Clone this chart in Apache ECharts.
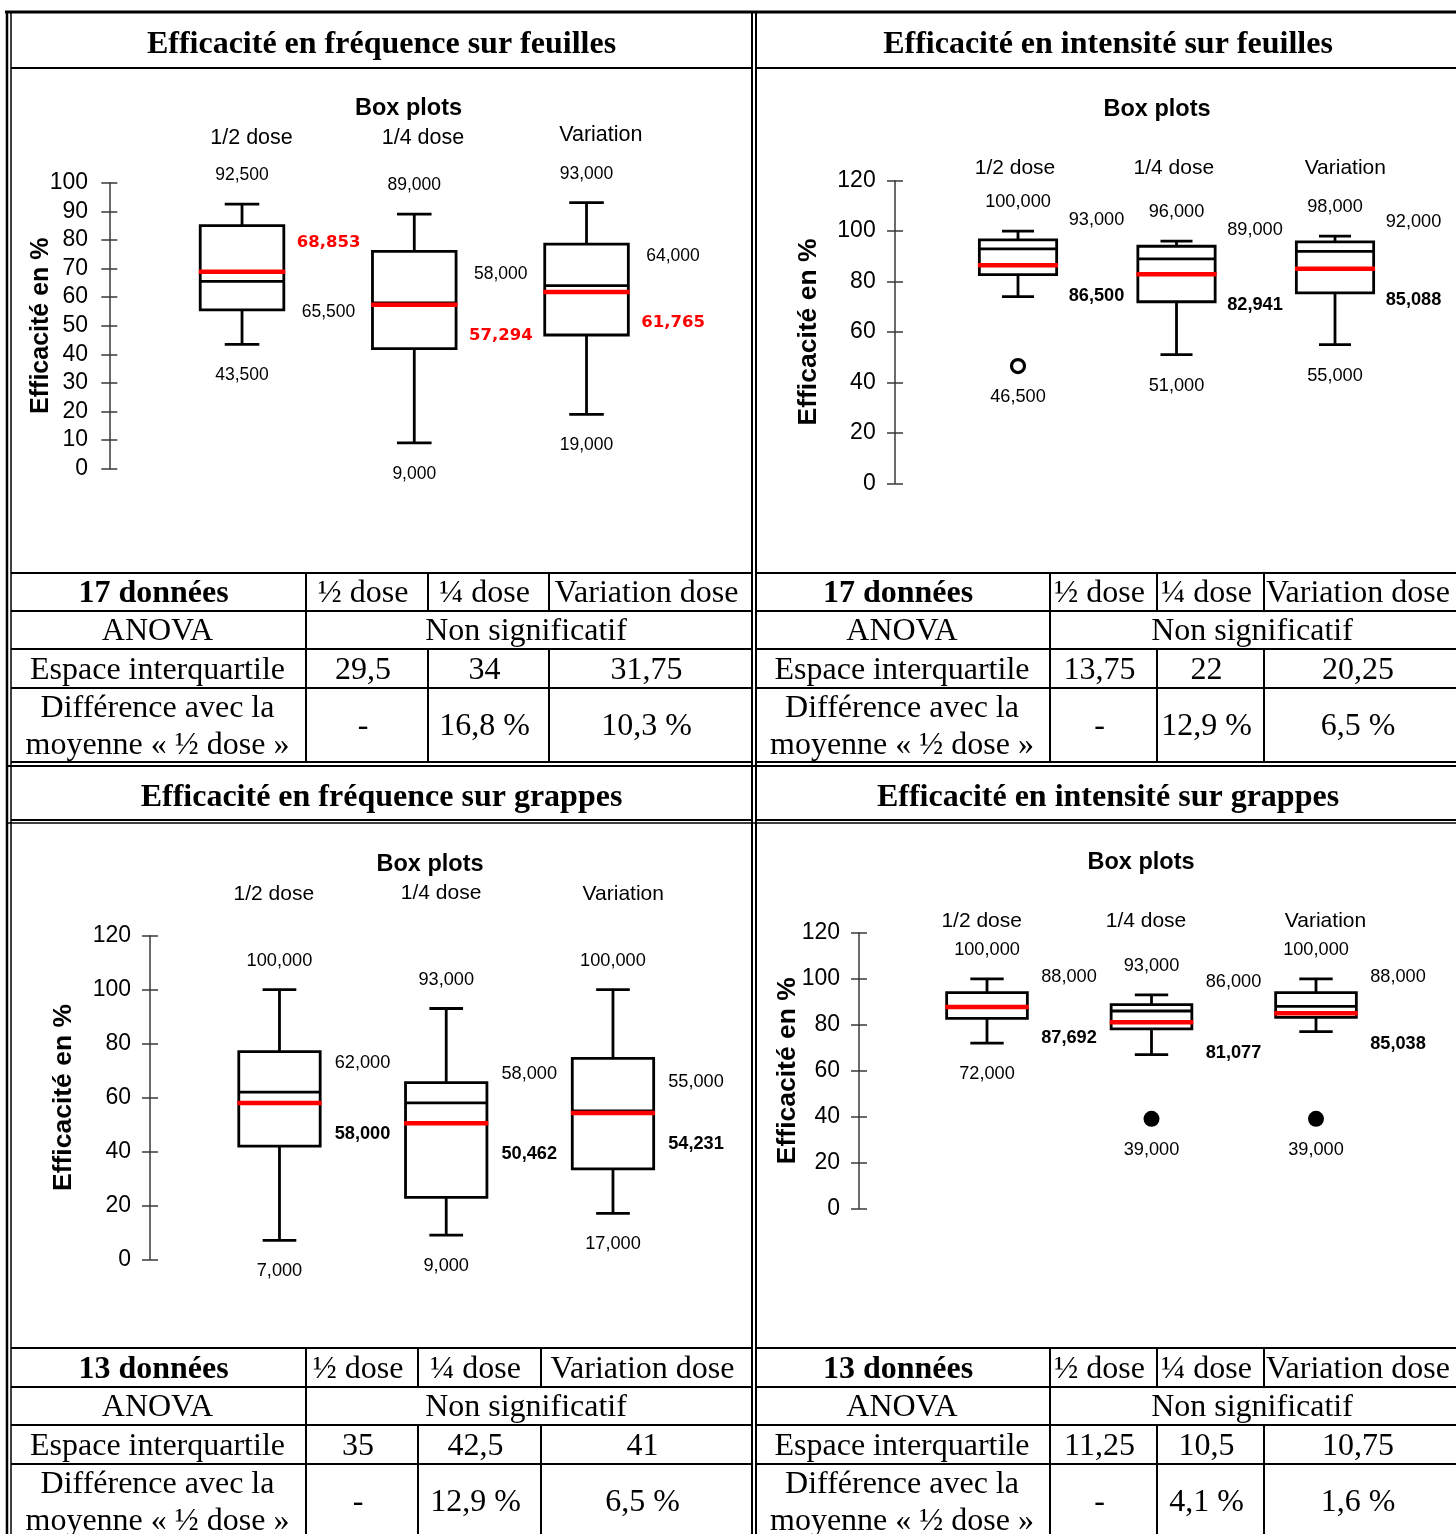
<!DOCTYPE html>
<html lang="fr">
<head>
<meta charset="utf-8">
<title>Efficacité – box plots</title>
<script src="https://cdn.jsdelivr.net/npm/echarts@6/dist/echarts.min.js"></script>
<style>
html, body { margin: 0; padding: 0; background: #fff; }
#main { width: 1456px; height: 1534px; }
</style>
</head>
<body>
<div id="main"></div>
<script>
// ---------- data ----------
const categories = ['1/2 dose', '1/4 dose', 'Variation'];

// each box: [min, Q1, median, Q3, max]
const freqFeuillesBoxes = [[43.5, 55.5, 65.5, 85, 92.5], [9, 42, 58, 76, 89], [19, 46.75, 64, 78.5, 93]];
const freqFeuillesMeans = [68.853, 57.294, 61.765];
const freqFeuillesOutliers = [];

const intFeuillesBoxes = [[74, 82.75, 93, 96.5, 100], [51, 72, 89, 94, 96], [55, 75.5, 92, 95.75, 98]];
const intFeuillesMeans = [86.5, 82.941, 85.088];
const intFeuillesOutliers = [[0, 46.5]];

const freqGrappesBoxes = [[7, 42, 62, 77, 100], [9, 23, 58, 65.5, 93], [17, 33.5, 55, 74.5, 100]];
const freqGrappesMeans = [58, 50.462, 54.231];
const freqGrappesOutliers = [];

const intGrappesBoxes = [[72, 82.75, 88, 94, 100], [67, 78.25, 86, 88.75, 93], [77, 83.25, 88, 94, 100]];
const intGrappesMeans = [87.692, 81.077, 85.038];
const intGrappesOutliers = [[1, 39], [2, 39]];

// y scales: [min, max, interval]
const scaleFreqFeuilles = [0, 100, 10];
const scaleOthers = [0, 120, 20];

// titles and tables
const panelTitles = [
  'Efficacité en fréquence sur feuilles',
  'Efficacité en intensité sur feuilles',
  'Efficacité en fréquence sur grappes',
  'Efficacité en intensité sur grappes'
];
const sampleSizes = ['17 données', '17 données', '13 données', '13 données'];
const tableColumns = ['½ dose', '¼ dose', 'Variation dose'];
const rowAnova = 'ANOVA';
const rowIqr = 'Espace interquartile';
const rowDiff = ['Différence avec la', 'moyenne « ½ dose »'];
const anovaResults = ['Non significatif', 'Non significatif', 'Non significatif', 'Non significatif'];
const iqrFreqFeuilles = ['29,5', '34', '31,75'];
const iqrIntFeuilles = ['13,75', '22', '20,25'];
const iqrFreqGrappes = ['35', '42,5', '41'];
const iqrIntGrappes = ['11,25', '10,5', '10,75'];
const diffFreqFeuilles = ['-', '16,8 %', '10,3 %'];
const diffIntFeuilles = ['-', '12,9 %', '6,5 %'];
const diffFreqGrappes = ['-', '12,9 %', '6,5 %'];
const diffIntGrappes = ['-', '4,1 %', '1,6 %'];

// ---------- layout & style ----------
const SANS = '"Liberation Sans", Arial, sans-serif';
const SERIF = '"Liberation Serif", "Times New Roman", serif';

const panels = [
  { boxes: freqFeuillesBoxes, means: freqFeuillesMeans, outliers: freqFeuillesOutliers, scale: scaleFreqFeuilles,
    iqr: iqrFreqFeuilles, diff: diffFreqFeuilles,
    grid: { left: 155.9, top: 182.7, width: 516.75, height: 286 }, axisOffset: 46.6, tickMargin: 21.3,
    nameFont: 25, nameGap: 56, boxW: 83.6, sideDx: 86.5, valFont: 17.5,
    meanFont: 'bold 16.5px "DejaVu Sans", sans-serif', meanColor: '#ff0000',
    catFont: 21.5, catMargin: 33.5, catNudge: [[9.5, 1.5], [8.7, 0], [14.3, 6]],
    boxTitle: [408.5, 107],
    frame: { x0: 11, x1: 752, top: 12, titleBottom: 68, tableTop: 573, rows: [611, 649, 688], bottom: 762, cols: [306, 428, 549] } },
  { boxes: intFeuillesBoxes, means: intFeuillesMeans, outliers: intFeuillesOutliers, scale: scaleOthers,
    iqr: iqrIntFeuilles, diff: diffIntFeuilles,
    grid: { left: 938.75, top: 180.7, width: 475.5, height: 302.6 }, axisOffset: 43.75, tickMargin: 19.3,
    nameFont: 26.5, nameGap: 73, boxW: 77.3, sideDx: 78.5, valFont: 18.2,
    meanFont: 'bold 18.2px ' + SANS, meanColor: '#000',
    catFont: 21, catMargin: 1.5, catNudge: [[-3, 0], [-2.7, 0], [10.3, 0]],
    boxTitle: [1157, 108],
    frame: { x0: 756, x1: 1460, top: 12, titleBottom: 68, tableTop: 573, rows: [611, 649, 688], bottom: 762, cols: [1050, 1157, 1264] } },
  { boxes: freqGrappesBoxes, means: freqGrappesMeans, outliers: freqGrappesOutliers, scale: scaleOthers,
    iqr: iqrFreqGrappes, diff: diffFreqGrappes,
    grid: { left: 196.1, top: 935.7, width: 500.25, height: 323.6 }, axisOffset: 46.1, tickMargin: 19,
    nameFont: 26.5, nameGap: 73, boxW: 81.4, sideDx: 83, valFont: 18.2,
    meanFont: 'bold 18.2px ' + SANS, meanColor: '#000',
    catFont: 21, catMargin: 30.5, catNudge: [[-5.7, 0], [-5.2, 3], [10.3, 1]],
    boxTitle: [430, 863],
    frame: { x0: 11, x1: 752, top: 766, titleBottom: 820, tableTop: 1348, rows: [1387, 1425, 1464], bottom: 1538, cols: [306, 418, 541] } },
  { boxes: intGrappesBoxes, means: intGrappesMeans, outliers: intGrappesOutliers, scale: scaleOthers,
    iqr: iqrIntGrappes, diff: diffIntGrappes,
    grid: { left: 904.75, top: 933, width: 493.5, height: 275.3 }, axisOffset: 45.75, tickMargin: 19,
    nameFont: 26.5, nameGap: 58, boxW: 80.7, sideDx: 82, valFont: 18.2,
    meanFont: 'bold 18.2px ' + SANS, meanColor: '#000',
    catFont: 21, catMargin: 1, catNudge: [[-5.3, 0], [-5.5, 0], [9.5, 0]],
    boxTitle: [1141, 861],
    frame: { x0: 756, x1: 1460, top: 766, titleBottom: 820, tableTop: 1348, rows: [1387, 1425, 1464], bottom: 1538, cols: [1050, 1157, 1264] } }
];

const BOX_LW = 2.8;
const MEAN_LW = 4.5;
const ABOVE = 31;
const BELOW = 29;
const TEXT_DY = 2;   // optical correction of the 'middle' baseline

const fmt = v => v.toFixed(3).replace('.', ',');

function textEl(str, x, y, font, fill) {
  return {
    type: 'text', silent: true,
    style: { text: str, x: x, y: y + TEXT_DY, font: font, fill: fill || '#000',
      align: 'center', verticalAlign: 'middle', textAlign: 'center', textVerticalAlign: 'middle' }
  };
}
function lineEl(x1, y1, x2, y2, stroke, w) {
  return { type: 'line', silent: true, shape: { x1, y1, x2, y2 }, style: { stroke: stroke, lineWidth: w } };
}

// box + whiskers + median + mean + value labels
function boxRenderer(p) {
  return function (params, api) {
    const cat = api.value(0);
    const vMin = api.value(1), q1 = api.value(2), med = api.value(3), q3 = api.value(4),
      vMax = api.value(5), mean = api.value(6), low = api.value(7);
    const cx = api.coord([cat, med])[0];
    const y = v => api.coord([cat, v])[1];
    const half = p.boxW / 2;
    const outer = p.boxW + BOX_LW;
    const cap = outer * 0.2;
    const valFont = p.valFont + 'px ' + SANS;
    const children = [
      lineEl(cx, y(q3), cx, y(vMax), '#000', BOX_LW),
      lineEl(cx, y(q1), cx, y(vMin), '#000', BOX_LW),
      lineEl(cx - cap, y(vMax), cx + cap, y(vMax), '#000', BOX_LW),
      lineEl(cx - cap, y(vMin), cx + cap, y(vMin), '#000', BOX_LW),
      { type: 'rect', silent: true, shape: { x: cx - half, y: y(q3), width: p.boxW, height: y(q1) - y(q3) },
        style: { fill: '#fff', stroke: '#000', lineWidth: BOX_LW } },
      lineEl(cx - half, y(med), cx + half, y(med), '#000', BOX_LW),
      lineEl(cx - outer / 2, y(mean), cx + outer / 2, y(mean), '#ff0000', MEAN_LW),
      textEl(fmt(vMax), cx, y(vMax) - ABOVE, valFont),
      textEl(fmt(low), cx, y(low) + BELOW, valFont)
    ];
    const sx = cx + p.sideDx;
    const medUp = med >= mean;
    children.push(textEl(fmt(med), sx, medUp ? y(med) - ABOVE : y(med) + BELOW, valFont));
    children.push(textEl(fmt(mean), sx, medUp ? y(mean) + BELOW : y(mean) - ABOVE, p.meanFont, p.meanColor));
    return { type: 'group', children: children };
  };
}

const grids = [], xAxes = [], yAxes = [], series = [], graphics = [];

panels.forEach((p, i) => {
  grids.push(Object.assign({ containLabel: false }, p.grid));

  const rich = {};
  p.catNudge.forEach(([dx, padB], k) => {
    rich['c' + k] = { fontFamily: SANS, fontSize: p.catFont, lineHeight: p.catFont, color: '#000',
      padding: [0, dx < 0 ? -2 * dx : 0, padB, dx > 0 ? 2 * dx : 0] };
  });
  xAxes.push({
    type: 'category', gridIndex: i, data: categories, position: 'top', boundaryGap: true,
    axisLine: { show: false }, axisTick: { show: false }, splitLine: { show: false },
    axisLabel: { margin: p.catMargin, interval: 0, formatter: (v, k) => '{c' + k + '|' + v + '}', rich: rich }
  });

  const [mn, mx, step] = p.scale;
  // main axis: line, outer ticks, labels, title
  yAxes.push({
    type: 'value', gridIndex: i, position: 'left', offset: p.axisOffset, min: mn, max: mx, interval: step,
    name: 'Efficacité en %', nameLocation: 'middle', nameRotate: 90, nameGap: p.nameGap,
    nameMoveOverlap: false,
    nameTextStyle: { fontFamily: SANS, fontWeight: 'bold', fontSize: p.nameFont, color: '#000' },
    axisLine: { show: true, lineStyle: { color: '#3a3a3a', width: 1.5 } },
    axisTick: { show: true, length: 8, lineStyle: { color: '#3a3a3a', width: 1.5 } },
    axisLabel: { margin: p.tickMargin, fontFamily: SANS, fontSize: 23, color: '#000' },
    splitLine: { show: false }
  });
  // companion axis: inner half of the crossing ticks
  yAxes.push({
    type: 'value', gridIndex: i, position: 'left', offset: p.axisOffset, min: mn, max: mx, interval: step,
    axisLine: { show: false },
    axisTick: { show: true, inside: true, length: 8, lineStyle: { color: '#3a3a3a', width: 1.5 } },
    axisLabel: { show: false }, splitLine: { show: false }
  });

  const data = p.boxes.map((b, k) => {
    const outs = p.outliers.filter(o => o[0] === k).map(o => o[1]);
    const low = Math.min(b[0], ...outs);
    return [k, b[0], b[1], b[2], b[3], b[4], p.means[k], low];
  });
  series.push({
    type: 'custom', name: panelTitles[i], xAxisIndex: i, yAxisIndex: 2 * i, clip: false,
    renderItem: boxRenderer(p), encode: { x: 0, y: [1, 2, 3, 4, 5, 6, 7] }, data: data, z: 3
  });
  if (p.outliers.length) {
    const hollow = i === 1;
    series.push({
      type: 'scatter', xAxisIndex: i, yAxisIndex: 2 * i, data: p.outliers, z: 4,
      symbol: 'circle', symbolSize: hollow ? 13 : 16,
      itemStyle: hollow ? { color: '#fff', borderColor: '#000', borderWidth: 3.2, opacity: 1 }
                        : { color: '#000', opacity: 1 }
    });
  }

  // "Box plots" heading
  graphics.push(textEl('Box plots', p.boxTitle[0], p.boxTitle[1], 'bold 23.5px ' + SANS));

  // panel title row and statistics table
  const f = p.frame;
  const cx = (f.x0 + f.x1) / 2;
  graphics.push(textEl(panelTitles[i], cx, (f.top + f.titleBottom) / 2 + 3, 'bold 32px ' + SERIF));
  graphics.push(lineEl(f.x0, f.titleBottom, f.x1, f.titleBottom, '#000', 2));
  graphics.push(lineEl(f.x0, f.tableTop, f.x1, f.tableTop, '#000', 2));
  f.rows.forEach(r => graphics.push(lineEl(f.x0, r, f.x1, r, '#000', 2)));
  graphics.push(lineEl(f.x0, f.bottom, f.x1, f.bottom, '#000', 2));
  const rowsY = [f.tableTop].concat(f.rows, [f.bottom]);
  // column separators (the ANOVA row spans the three value columns)
  graphics.push(lineEl(f.cols[0], f.tableTop, f.cols[0], f.bottom, '#000', 2));
  [f.cols[1], f.cols[2]].forEach(c => {
    graphics.push(lineEl(c, rowsY[0], c, rowsY[1], '#000', 2));
    graphics.push(lineEl(c, rowsY[2], c, rowsY[4], '#000', 2));
  });
  const edges = [f.x0].concat(f.cols, [f.x1]);
  const colC = k => (edges[k] + edges[k + 1]) / 2 - (k === 0 ? 1 : 4);
  const rowC = k => (rowsY[k] + rowsY[k + 1]) / 2;
  const T = '32px ' + SERIF;
  graphics.push(textEl(sampleSizes[i], colC(0) - 4, rowC(0), 'bold ' + T));
  tableColumns.forEach((c, k) => graphics.push(textEl(c, colC(k + 1), rowC(0), T)));
  graphics.push(textEl(rowAnova, colC(0), rowC(1), T));
  graphics.push(textEl(anovaResults[i], (f.cols[0] + f.x1) / 2 - 3, rowC(1), T));
  graphics.push(textEl(rowIqr, colC(0), rowC(2), T));
  p.iqr.forEach((v, k) => graphics.push(textEl(v, colC(k + 1), rowC(2), T)));
  graphics.push(textEl(rowDiff[0], colC(0), rowC(3) - 18.5, T));
  graphics.push(textEl(rowDiff[1], colC(0), rowC(3) + 18.5, T));
  p.diff.forEach((v, k) => graphics.push(textEl(v, colC(k + 1), rowC(3), T)));
});

// outer frame
graphics.push(lineEl(5, 12, 1456, 12, '#000', 3));
graphics.push(lineEl(7, 11, 7, 1534, '#000', 2.5));
graphics.push(lineEl(11, 13, 11, 1534, '#000', 1.5));
graphics.push(lineEl(752, 12, 752, 1534, '#000', 2));
graphics.push(lineEl(756, 12, 756, 1534, '#000', 2));
graphics.push(lineEl(7, 766, 1456, 766, '#000', 2));
graphics.push(lineEl(7, 823, 1456, 823, '#000', 1.5));

const chart = echarts.init(document.getElementById('main'), null, { renderer: 'canvas', width: 1456, height: 1534 });
chart.setOption({
  backgroundColor: '#fff',
  animation: false,
  grid: grids,
  xAxis: xAxes,
  yAxis: yAxes,
  series: series,
  graphic: { elements: graphics }
});
</script>
</body>
</html>
